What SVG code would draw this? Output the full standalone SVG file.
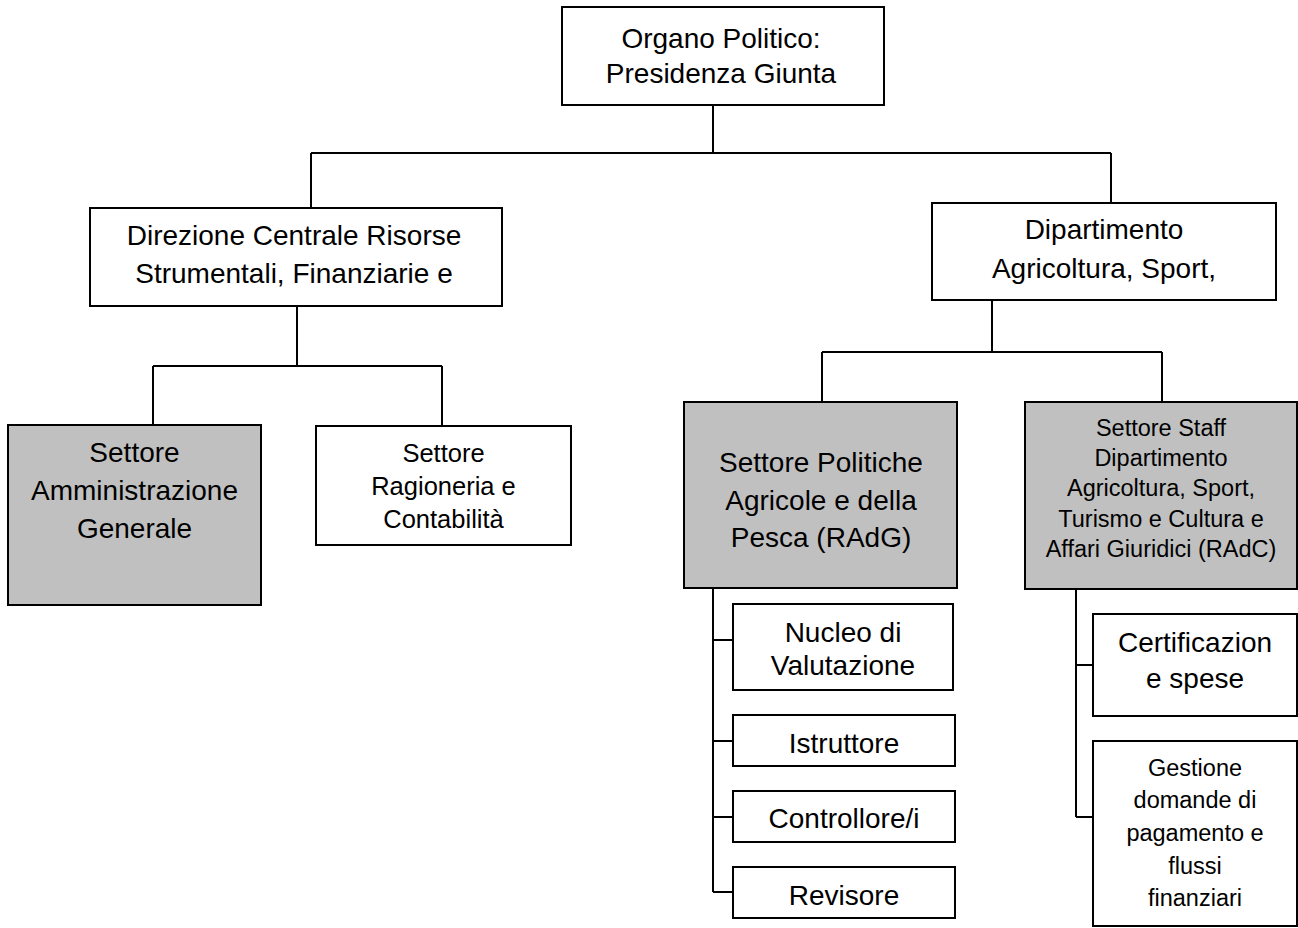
<svg xmlns="http://www.w3.org/2000/svg" width="1298" height="928" viewBox="0 0 1298 928">
<style>
.box{fill:#ffffff;stroke:#000;stroke-width:2}
.gray{fill:#c0c0c0;stroke:#000;stroke-width:2}
.t{font-family:"Liberation Sans",Arial,sans-serif;font-size:28px;fill:#000;text-anchor:middle}
.s{font-size:23.5px}
.r{font-size:25.5px}
.conn{fill:none;stroke:#000;stroke-width:2}
</style>
<rect width="1298" height="928" fill="#ffffff"/>
<g id="connectors" class="conn">
<path d="M713 105V153M311 153H1111M311 153V208M1111 153V203"/>
<path d="M297 306V366M153 366H442M153 366V425M442 366V426"/>
<path d="M992 300V352M822 352H1162M822 352V402M1162 352V402"/>
<path d="M713 588V892M713 640H733M713 741H733M713 817H733M713 892H733"/>
<path d="M1076 589V817M1076 665H1093M1076 817H1093"/>
</g>
<g id="organo">
<rect class="box" x="562" y="7" width="322" height="98"/>
<text class="t" x="721" y="48">Organo Politico:</text>
<text class="t" x="721" y="83">Presidenza Giunta</text>
</g>
<g id="direzione">
<rect class="box" x="90" y="208" width="412" height="98"/>
<text class="t" x="294" y="245">Direzione Centrale Risorse</text>
<text class="t" x="294" y="283">Strumentali, Finanziarie e</text>
</g>
<g id="dipartimento">
<rect class="box" x="932" y="203" width="344" height="97"/>
<text class="t" x="1104" y="239">Dipartimento</text>
<text class="t" x="1104" y="278">Agricoltura, Sport,</text>
</g>
<g id="amministrazione">
<rect class="gray" x="8" y="425" width="253" height="180"/>
<text class="t" x="134.5" y="462">Settore</text>
<text class="t" x="134.5" y="500">Amministrazione</text>
<text class="t" x="134.5" y="538">Generale</text>
</g>
<g id="ragioneria">
<rect class="box" x="316" y="426" width="255" height="119"/>
<text class="t r" x="443.5" y="462">Settore</text>
<text class="t r" x="443.5" y="495">Ragioneria e</text>
<text class="t r" x="443.5" y="528">Contabilità</text>
</g>
<g id="politiche">
<rect class="gray" x="684" y="402" width="273" height="186"/>
<text class="t" x="821" y="472">Settore Politiche</text>
<text class="t" x="821" y="510">Agricole e della</text>
<text class="t" x="821" y="547">Pesca (RAdG)</text>
</g>
<g id="staff">
<rect class="gray" x="1025" y="402" width="272" height="187"/>
<text class="t s" x="1161" y="435.5">Settore Staff</text>
<text class="t s" x="1161" y="466">Dipartimento</text>
<text class="t s" x="1161" y="496">Agricoltura, Sport,</text>
<text class="t s" x="1161" y="527">Turismo e Cultura e</text>
<text class="t s" x="1161" y="557">Affari Giuridici (RAdC)</text>
</g>
<g id="nucleo">
<rect class="box" x="733" y="604" width="220" height="86"/>
<text class="t" x="843" y="642">Nucleo di</text>
<text class="t" x="843" y="675">Valutazione</text>
</g>
<g id="istruttore">
<rect class="box" x="733" y="715" width="222" height="51"/>
<text class="t" x="844" y="753">Istruttore</text>
</g>
<g id="controllore">
<rect class="box" x="733" y="791" width="222" height="51"/>
<text class="t" x="844" y="828">Controllore/i</text>
</g>
<g id="revisore">
<rect class="box" x="733" y="867" width="222" height="51"/>
<text class="t" x="844" y="905">Revisore</text>
</g>
<g id="certificazione">
<rect class="box" x="1093" y="614" width="204" height="102"/>
<text class="t" x="1195" y="652">Certificazion</text>
<text class="t" x="1195" y="688">e spese</text>
</g>
<g id="gestione">
<rect class="box" x="1093" y="741" width="204" height="185"/>
<text class="t s" x="1195" y="776">Gestione</text>
<text class="t s" x="1195" y="808">domande di</text>
<text class="t s" x="1195" y="841">pagamento e</text>
<text class="t s" x="1195" y="874">flussi</text>
<text class="t s" x="1195" y="906">finanziari</text>
</g>
</svg>
